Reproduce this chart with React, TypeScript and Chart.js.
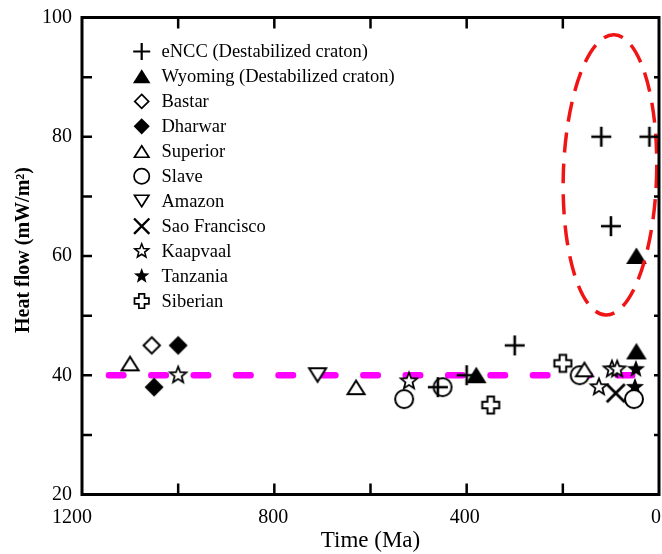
import React, { useEffect, useRef } from "react";
import { Chart, registerables } from "chart.js";

Chart.register(...registerables);

// ---- data (time in Ma, heat flow in mW/m²) ----
const seriesNames = [
  "eNCC (Destabilized craton)",
  "Wyoming (Destabilized craton)",
  "Bastar",
  "Dharwar",
  "Superior",
  "Slave",
  "Amazon",
  "Sao Francisco",
  "Kaapvaal",
  "Tanzania",
  "Siberian",
];
const seriesMarkers = [
  "plus",
  "triUpFilled",
  "diamondOpen",
  "diamondFilled",
  "triUpOpen",
  "circleOpen",
  "triDownOpen",
  "x",
  "starOpen",
  "starFilled",
  "greekCrossOpen",
];

const enccTime = [120, 20, 100, 300, 400, 460];
const enccFlow = [80, 80, 65, 45, 40, 38];
const wyomingTime = [380, 47, 47];
const wyomingFlow = [40, 44, 60];
const bastarTime = [1055];
const bastarFlow = [45];
const dharwarTime = [1000, 1050];
const dharwarFlow = [45, 38];
const superiorTime = [1100, 630, 155];
const superiorFlow = [42, 38, 41];
const slaveTime = [530, 450, 165, 52];
const slaveFlow = [36, 38, 40, 36];
const amazonTime = [710];
const amazonFlow = [40];
const saoFranciscoTime = [90];
const saoFranciscoFlow = [37];
const kaapvaalTime = [1000, 520, 125, 98, 87];
const kaapvaalFlow = [40, 39, 38, 41, 41];
const tanzaniaTime = [48, 50];
const tanzaniaFlow = [41, 38];
const siberianTime = [200, 350];
const siberianFlow = [42, 35];

const seriesTimes = [
  enccTime, wyomingTime, bastarTime, dharwarTime, superiorTime, slaveTime,
  amazonTime, saoFranciscoTime, kaapvaalTime, tanzaniaTime, siberianTime,
];
const seriesFlows = [
  enccFlow, wyomingFlow, bastarFlow, dharwarFlow, superiorFlow, slaveFlow,
  amazonFlow, saoFranciscoFlow, kaapvaalFlow, tanzaniaFlow, siberianFlow,
];

// reference line (average heat flow of stable cratons)
const refLineTime = [1144, 36];
const refLineFlow = [40, 40];

// highlighted region (ellipse): centre time, centre flow, half-width (Ma), half-height (mW/m²)
const ellipseCenter = [102, 73.6];
const ellipseRadii = [97, 23.5];

// axes
const xMin = 0, xMax = 1200, xStep = 200;
const xTickLabels = [1200, 800, 400, 0];
const xTickLabelShift = [-10, -1, -2, -3];
const yMin = 20, yMax = 100, yStep = 10, yLabelStep = 20;
const xTitle = "Time (Ma)";
const yTitle = "Heat flow (mW/m²)";

const SERIF = '"Liberation Serif", "DejaVu Serif", serif';

function starPath(ctx: CanvasRenderingContext2D, R: number, r: number) {
  for (let i = 0; i < 10; i++) {
    const a = -Math.PI / 2 + (i * Math.PI) / 5;
    const rr = i % 2 === 0 ? R : r;
    const px = Math.cos(a) * rr;
    const py = Math.sin(a) * rr;
    if (i === 0) ctx.moveTo(px, py);
    else ctx.lineTo(px, py);
  }
  ctx.closePath();
}

function drawMarker(ctx: CanvasRenderingContext2D, type: string, cx: number, cy: number, k: number) {
  ctx.save();
  ctx.translate(cx, cy);
  ctx.scale(k, k);
  ctx.strokeStyle = "#000";
  ctx.fillStyle = "#fff";
  ctx.lineWidth = 2;
  ctx.lineJoin = "miter";
  ctx.beginPath();
  switch (type) {
    case "plus":
      ctx.lineWidth = 2.6;
      ctx.moveTo(-10, 0); ctx.lineTo(10, 0);
      ctx.moveTo(0, -10); ctx.lineTo(0, 10);
      ctx.stroke();
      break;
    case "x":
      ctx.lineWidth = 2.8;
      ctx.moveTo(-9, -9); ctx.lineTo(9, 9);
      ctx.moveTo(9, -9); ctx.lineTo(-9, 9);
      ctx.stroke();
      break;
    case "triUpFilled":
      ctx.moveTo(0, -8.5); ctx.lineTo(10.3, 8); ctx.lineTo(-10.3, 8); ctx.closePath();
      ctx.fillStyle = "#000"; ctx.fill();
      break;
    case "triUpOpen":
      ctx.moveTo(0, -6.5); ctx.lineTo(8.5, 7); ctx.lineTo(-8.5, 7); ctx.closePath();
      ctx.fill(); ctx.stroke();
      break;
    case "triDownOpen":
      ctx.moveTo(0, 6.5); ctx.lineTo(8.5, -7); ctx.lineTo(-8.5, -7); ctx.closePath();
      ctx.fill(); ctx.stroke();
      break;
    case "diamondOpen":
      ctx.moveTo(0, -8.2); ctx.lineTo(8.2, 0); ctx.lineTo(0, 8.2); ctx.lineTo(-8.2, 0); ctx.closePath();
      ctx.fill(); ctx.stroke();
      break;
    case "diamondFilled":
      ctx.moveTo(0, -9.5); ctx.lineTo(9.5, 0); ctx.lineTo(0, 9.5); ctx.lineTo(-9.5, 0); ctx.closePath();
      ctx.fillStyle = "#000"; ctx.fill();
      break;
    case "circleOpen":
      ctx.arc(0, 0, 9, 0, Math.PI * 2);
      ctx.fill(); ctx.stroke();
      break;
    case "starOpen":
      ctx.lineWidth = 1.8;
      starPath(ctx, 8.6, 3.7);
      ctx.fill(); ctx.stroke();
      break;
    case "starFilled":
      starPath(ctx, 9.6, 4.0);
      ctx.fillStyle = "#000"; ctx.fill();
      break;
    case "greekCrossOpen": {
      const a = 3.3, L = 8.5;
      ctx.moveTo(-a, -L); ctx.lineTo(a, -L); ctx.lineTo(a, -a); ctx.lineTo(L, -a);
      ctx.lineTo(L, a); ctx.lineTo(a, a); ctx.lineTo(a, L); ctx.lineTo(-a, L);
      ctx.lineTo(-a, a); ctx.lineTo(-L, a); ctx.lineTo(-L, -a); ctx.lineTo(-a, -a);
      ctx.closePath();
      ctx.fill(); ctx.stroke();
      break;
    }
  }
  ctx.restore();
}

function markerCanvas(type: string): HTMLCanvasElement {
  const c = document.createElement("canvas");
  c.width = 30;
  c.height = 30;
  const ctx = c.getContext("2d")!;
  drawMarker(ctx, type, 15, 15, 1);
  return c;
}

const framePlugin = {
  id: "frameAndDecor",
  afterDatasetsDraw(chart: any) {
    const ctx: CanvasRenderingContext2D = chart.ctx;
    const { left, right, top, bottom } = chart.chartArea;
    const xs = chart.scales.x;
    const ys = chart.scales.y;

    // highlighted ellipse
    ctx.save();
    const ecx = xs.getPixelForValue(ellipseCenter[0]);
    const ecy = ys.getPixelForValue(ellipseCenter[1]);
    const erx = Math.abs(xs.getPixelForValue(ellipseCenter[0] + ellipseRadii[0]) - ecx);
    const ery = Math.abs(ys.getPixelForValue(ellipseCenter[1] + ellipseRadii[1]) - ecy);
    ctx.beginPath();
    ctx.ellipse(ecx, ecy, erx, ery, 0.03, 0, Math.PI * 2);
    ctx.strokeStyle = "rgb(240,20,20)";
    ctx.lineWidth = 3.5;
    ctx.setLineDash([20, 11]);
    ctx.lineDashOffset = 8;
    ctx.stroke();
    ctx.restore();

    // frame
    ctx.save();
    ctx.strokeStyle = "#000";
    ctx.lineWidth = 3;
    ctx.setLineDash([]);
    ctx.strokeRect(left, top, right - left, bottom - top);
    // ticks inward
    ctx.lineWidth = 2.5;
    ctx.beginPath();
    for (let v = yMin + yStep; v < yMax; v += yStep) {
      const py = ys.getPixelForValue(v);
      ctx.moveTo(left, py); ctx.lineTo(left + 10, py);
      ctx.moveTo(right, py); ctx.lineTo(right - 5, py);
    }
    for (let v = xMin + xStep; v < xMax; v += xStep) {
      const px = xs.getPixelForValue(v);
      ctx.moveTo(px, bottom); ctx.lineTo(px, bottom - 11);
      ctx.moveTo(px, top); ctx.lineTo(px, top + 11);
    }
    ctx.stroke();
    ctx.restore();

    // x tick labels
    ctx.save();
    ctx.fillStyle = "#000";
    ctx.font = `20px ${SERIF}`;
    ctx.textAlign = "center";
    ctx.textBaseline = "middle";
    xTickLabels.forEach((v, i) => {
      ctx.fillText(String(v), xs.getPixelForValue(v) + xTickLabelShift[i], bottom + 23);
    });
    ctx.restore();

    // legend
    ctx.save();
    const lx = 141.7, tx = 161.5, ly0 = 51.5, dy = 24.95;
    ctx.font = `18.5px ${SERIF}`;
    ctx.textAlign = "left";
    ctx.textBaseline = "middle";
    ctx.fillStyle = "#000";
    seriesNames.forEach((name, i) => {
      const y = ly0 + i * dy;
      drawMarker(ctx, seriesMarkers[i], lx, y, 0.85);
      ctx.fillStyle = "#000";
      ctx.fillText(name, tx, y + 1);
    });
    ctx.restore();

    // axis titles
    ctx.save();
    ctx.fillStyle = "#000";
    ctx.textAlign = "center";
    ctx.textBaseline = "middle";
    ctx.font = `23px ${SERIF}`;
    ctx.fillText(xTitle, (left + right) / 2, 541);
    ctx.translate(24, 250);
    ctx.rotate(-Math.PI / 2);
    ctx.font = `bold 20px ${SERIF}`;
    ctx.fillText(yTitle, 0, 0);
    ctx.restore();
  },
};

export default function App() {
  const canvasRef = useRef<HTMLCanvasElement | null>(null);

  useEffect(() => {
    document.body.style.margin = "0";
    const canvas = canvasRef.current;
    if (!canvas) return;

    const datasets: any[] = seriesNames.map((name, i) => ({
      label: name,
      data: seriesTimes[i].map((t, j) => ({ x: t, y: seriesFlows[i][j] })),
      pointStyle: markerCanvas(seriesMarkers[i]),
      pointRadius: 10,
      showLine: false,
      order: 0,
    }));
    datasets.push({
      label: "reference",
      data: refLineTime.map((t, j) => ({ x: t, y: refLineFlow[j] })),
      showLine: true,
      borderColor: "#ff00ff",
      borderWidth: 6.5,
      borderDash: [14.5, 27.9],
      borderCapStyle: "round",
      pointRadius: 0,
      fill: false,
      order: 10,
    });

    const chart = new Chart(canvas, {
      type: "scatter",
      data: { datasets },
      options: {
        animation: false,
        responsive: false,
        events: [],
        layout: { autoPadding: false, padding: { left: 0, top: 17.5, right: 3, bottom: 0 } },
        plugins: {
          legend: { display: false },
          tooltip: { enabled: false },
        },
        scales: {
          x: {
            type: "linear",
            reverse: true,
            min: xMin,
            max: xMax,
            grid: { display: false, drawTicks: false },
            border: { display: false },
            ticks: { display: false, stepSize: xStep },
            afterFit: (s: any) => {
              s.height = 554 - 494.5;
              s.paddingLeft = 0;
              s.paddingRight = 0;
            },
          },
          y: {
            type: "linear",
            min: yMin,
            max: yMax,
            grid: { display: false, drawTicks: false },
            border: { display: false },
            ticks: {
              stepSize: yStep,
              autoSkip: false,
              padding: 10,
              color: "#000",
              font: { family: SERIF, size: 20 },
              callback: (v: any) => (Number(v) % yLabelStep === 0 ? String(v) : ""),
            },
            afterFit: (s: any) => {
              s.width = 82;
              s.paddingTop = 0;
              s.paddingBottom = 0;
            },
          },
        },
      } as any,
      plugins: [framePlugin],
    });

    return () => chart.destroy();
  }, []);

  return (
    <div style={{ width: 662, height: 554, background: "#fff" }}>
      <canvas ref={canvasRef} width={662} height={554} style={{ display: "block", width: 662, height: 554 }} />
    </div>
  );
}
